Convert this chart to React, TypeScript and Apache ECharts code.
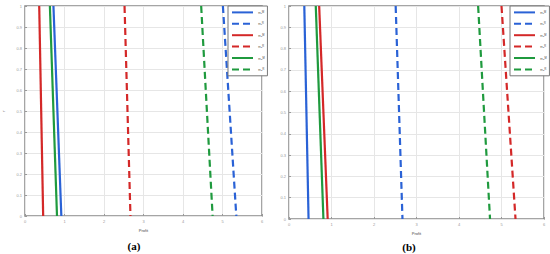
import React, { useEffect, useRef } from "react";
import * as echarts from "echarts";

// Series (order: blue solid, blue dashed, red solid, red dashed, green solid, green dashed)
const seriesNames = ["π₁ᴹ", "π₁ᴿ", "π₂ᴹ", "π₂ᴿ", "π₃ᴹ", "π₃ᴿ"];
const yLevels = [1, 0]; // top, bottom of each line
// Panel (a): profit at y = 1 and y = 0
const aTop = [0.72, 5.01, 0.36, 2.52, 0.63, 4.46];
const aBottom = [0.92, 5.35, 0.46, 2.67, 0.81, 4.75];
// Panel (b)
const bTop = [0.36, 2.51, 0.71, 5.0, 0.63, 4.45];
const bBottom = [0.46, 2.67, 0.91, 5.33, 0.81, 4.73];
const xMin = 0;
const xMax = 6;
const yMin = 0;
const yMax = 1;
const captions = ["(a)", "(b)"];
const xAxisName = "Profit";
const yAxisName = "r";

const colors = ["#2a62d6", "#2a62d6", "#d42828", "#d42828", "#1f9a3e", "#1f9a3e"];
const dashed = [false, true, false, true, false, true];

export default function App() {
  const ref = useRef<HTMLDivElement>(null);
  useEffect(() => {
    document.body.style.margin = "0";
    const chart = echarts.init(ref.current!, undefined, { renderer: "svg" });
    const grids = [
      { left: 24, top: 6, width: 238, height: 210 },
      { left: 289, top: 6, width: 255, height: 213 },
    ];
    const axisLabel = { fontSize: 4, color: "#999", margin: 3 };
    const xAxes = grids.map((_, i) => ({
      type: "value",
      gridIndex: i,
      min: xMin,
      max: xMax,
      interval: 1,
      name: xAxisName,
      nameLocation: "middle",
      nameGap: 12,
      nameTextStyle: { fontSize: 4, color: "#444" },
      axisLine: { show: false },
      axisTick: { show: true, inside: true, length: 2, lineStyle: { color: "#999" } },
      axisLabel,
      splitLine: { show: true, lineStyle: { color: "#e6e6e6", width: 1 } },
    }));
    const yAxes = grids.map((_, i) => ({
      type: "value",
      gridIndex: i,
      min: yMin,
      max: yMax,
      interval: 0.1,
      name: i === 0 ? yAxisName : "",
      nameLocation: "middle",
      nameGap: 20,
      nameTextStyle: { fontSize: 4, color: "#444" },
      axisLine: { show: false },
      axisTick: { show: true, inside: true, length: 2, lineStyle: { color: "#999" } },
      axisLabel: { ...axisLabel, formatter: (v: number) => String(Math.round(v * 10) / 10) },
      splitLine: { show: true, lineStyle: { color: "#e6e6e6", width: 1 } },
    }));
    const series: any[] = [];
    [
      [aTop, aBottom],
      [bTop, bBottom],
    ].forEach(([tops, bottoms], gi) => {
      seriesNames.forEach((name, k) => {
        series.push({
          type: "line",
          name,
          xAxisIndex: gi,
          yAxisIndex: gi,
          symbol: "none",
          silent: true,
          data: [
            [tops[k], yLevels[0]],
            [bottoms[k], yLevels[1]],
          ],
          lineStyle: {
            color: colors[k],
            width: 2.2,
            type: dashed[k] ? [7, 4] : "solid",
          },
          itemStyle: { color: colors[k] },
        });
      });
    });
    const legendBase = {
      orient: "vertical",
      data: seriesNames,
      itemWidth: 21,
      itemHeight: 6,
      itemGap: 6.6,
      padding: [4, 3, 4, 3],
      borderColor: "#777",
      borderWidth: 1,
      backgroundColor: "#fff",
      textStyle: { fontSize: 4, color: "#555" },
      itemStyle: { color: "transparent", borderWidth: 0, opacity: 0 },
      lineStyle: { width: 2 },
      selectedMode: false,
    };
    const captionStyle = {
      font: "bold 11px 'Liberation Serif'",
      fill: "#000",
      align: "center",
      verticalAlign: "middle",
    };
    chart.setOption({
      animation: false,
      backgroundColor: "#fff",
      grid: grids.map((g) => ({
        ...g,
        show: true,
        borderColor: "#888",
        borderWidth: 1.5,
        backgroundColor: "transparent",
      })),
      xAxis: xAxes,
      yAxis: yAxes,
      legend: [
        { ...legendBase, left: 228, top: 6 },
        { ...legendBase, left: 510, top: 6 },
      ],
      series,
      graphic: [
        { type: "text", x: 134, y: 246, style: { ...captionStyle, text: captions[0] } },
        { type: "text", x: 409, y: 247, style: { ...captionStyle, text: captions[1] } },
      ],
    });
    return () => chart.dispose();
  }, []);
  return <div ref={ref} style={{ width: 550, height: 254 }} />;
}
